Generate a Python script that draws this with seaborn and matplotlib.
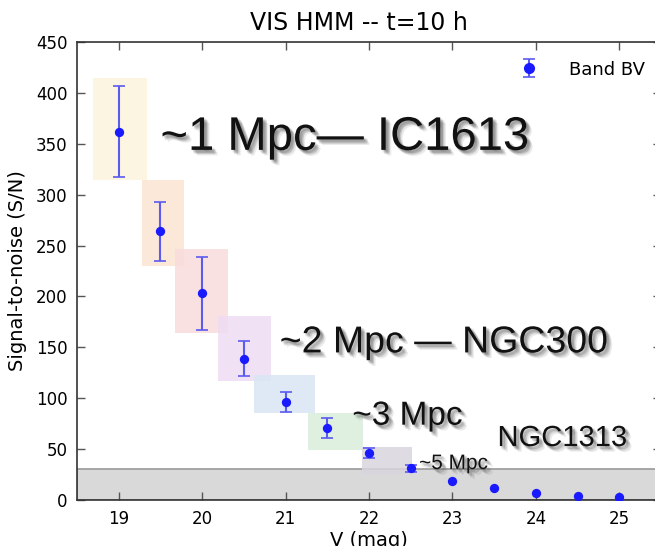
import numpy as np
import pandas as pd
import matplotlib
matplotlib.use("Agg")
import matplotlib.pyplot as plt
import matplotlib.patheffects as pe
from matplotlib.patches import Rectangle
import seaborn as sns

# Signal-to-noise for the BV band, 10 h exposure
mag = [19.0, 19.5, 20.0, 20.5, 21.0, 21.5, 22.0, 22.5, 23.0, 23.5, 24.0, 24.5, 25.0]
snr = [362, 264, 203, 139, 96, 71, 46, 31, 19, 12, 7, 4, 3]
snr_err = [45, 29, 36, 17, 10, 10, 5, 3, np.nan, np.nan, np.nan, np.nan, np.nan]

# Shaded distance boxes: (x0, x1, y0, y1)
box_x0 = [18.69, 19.28, 19.68, 20.19, 20.62, 21.27, 21.92]
box_x1 = [19.34, 19.78, 20.31, 20.83, 21.35, 21.93, 22.52]
box_y0 = [314, 230, 164, 117, 85.5, 49, 25.5]
box_y1 = [415, 314, 246.5, 181, 123, 85.5, 52]
box_colors = ["#fcf4dc", "#fbe4d3", "#f9dcdc", "#efdcf4", "#d9e6f4", "#daeedb", "#dad5de"]

# Distance / galaxy labels
lab_text = ["~1 Mpc\u2014 IC1613", "~2 Mpc \u2014 NGC300", "~3 Mpc", "NGC1313", "~5 Mpc"]
lab_x = [19.5, 20.93, 21.80, 23.54, 22.6]
lab_y = [344, 145, 74, 53, 30.5]
lab_size = [34, 27, 24, 21, 15]

noise_floor = 30

df = pd.DataFrame({"mag": mag, "snr": snr, "err": snr_err})

sns.set_style("ticks")
plt.rcParams["font.family"] = ["DejaVu Sans"]
plt.rcParams["text.color"] = "black"
plt.rcParams["axes.labelcolor"] = "black"

fig = plt.figure(figsize=(6.55, 5.46), dpi=100)
ax = fig.add_axes([77 / 655, 46 / 546, 584 / 655, 458 / 546])

ax.axhspan(0, noise_floor, facecolor="#d9d9d9", edgecolor="#9a9a9a", lw=1.2, zorder=0)

for x0, x1, y0, y1, c in zip(box_x0, box_x1, box_y0, box_y1, box_colors):
    ax.add_patch(Rectangle((x0, y0), x1 - x0, y1 - y0, facecolor=c, alpha=0.85,
                           edgecolor="none", zorder=1))

with_err = df.dropna(subset=["err"])
ax.errorbar(with_err["mag"], with_err["snr"], yerr=with_err["err"], fmt="none",
            ecolor="#5b5bf0", elinewidth=1.5, capsize=4, capthick=1.2, zorder=3)
sns.scatterplot(data=df, x="mag", y="snr", ax=ax, color="#1a1aff", s=45,
                edgecolor="#1a1aff", linewidth=0, zorder=4, legend=False)

# legend handle: point with error bar
hdl = ax.errorbar([np.nan], [np.nan], yerr=[1], fmt="o", color="#1a1aff", ms=7,
                  ecolor="#5b5bf0", elinewidth=1.5, capsize=4, capthick=1.2)
ax.legend([hdl], ["Band BV"], loc="upper right", frameon=False, numpoints=1,
          fontsize=13, bbox_to_anchor=(1.0, 0.995), handletextpad=1.2)

# soft drop shadow built from a few faint offset copies
shadow = [pe.SimplePatchShadow(offset=(dx, -dy), shadow_rgbFace="#444444", alpha=0.11)
          for dx, dy in [(1, 1), (2, 2), (3, 3), (2, 3), (3, 2), (4, 4), (1, 2), (2, 1)]]
shadow.append(pe.Normal())
for t, x, y, s in zip(lab_text, lab_x, lab_y, lab_size):
    ax.text(x, y, t, fontsize=s, family="Liberation Sans", color="#111111",
            ha="left", va="baseline", path_effects=shadow, zorder=5)

ax.set_xlim(18.5, 25.5)
ax.set_ylim(0, 450)
ax.set_xticks(range(19, 26))
ax.set_yticks(range(0, 451, 50))
ax.tick_params(direction="in", top=True, right=True, length=6, width=1,
               color="#555555", labelcolor="black", labelsize=12, pad=7)
for sp in ax.spines.values():
    sp.set_color("#333333")
    sp.set_linewidth(1.2)

ax.set_xlabel("V (mag)", fontsize=14, labelpad=2)
ax.set_ylabel("Signal-to-noise (S/N)", fontsize=14, labelpad=6)
ax.set_title("VIS HMM -- t=10 h", fontsize=17, pad=9, x=0.483)

fig.savefig("out.png", dpi=100)
